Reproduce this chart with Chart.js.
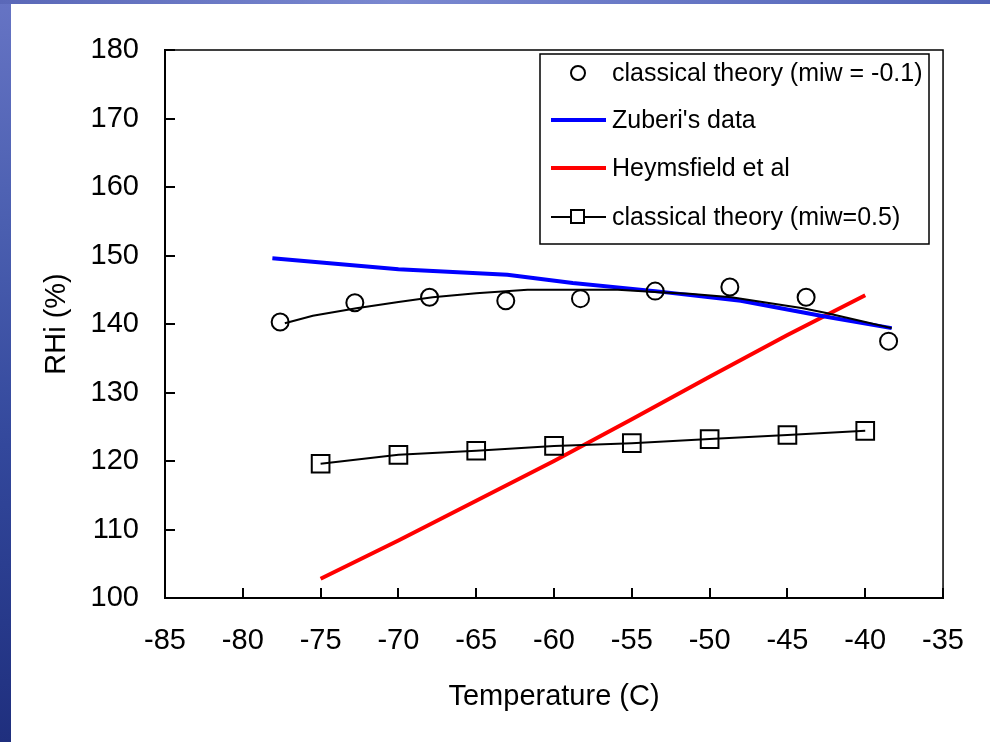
<!DOCTYPE html>
<html>
<head>
<meta charset="utf-8">
<script src="https://cdn.jsdelivr.net/npm/chart.js@4.4.1/dist/chart.umd.min.js"></script>
<style>
  html, body { margin: 0; padding: 0; }
  body {
    width: 990px; height: 742px; overflow: hidden; position: relative;
    background: linear-gradient(180deg, #6674c4 0%, #4b5fb0 30%, #33489c 60%, #1f2f7e 100%);
  }
  #sheet {
    position: absolute; left: 11px; top: 4px; right: 0; bottom: 0;
    background: #fff;
  }
  #topstrip {
    position: absolute; left: 0; top: 0; width: 990px; height: 4px;
    background: linear-gradient(90deg, #5a68b8, #7a88d0 40%, #5264b8 100%);
  }
  #wrap { position: absolute; left: 0; top: 0; width: 990px; height: 742px; }
</style>
</head>
<body>
<div id="topstrip"></div>
<div id="sheet"></div>
<div id="wrap"><canvas id="ctx" width="990" height="742"></canvas></div>
<script>
// Data
const xTicks = [-85, -80, -75, -70, -65, -60, -55, -50, -45, -40, -35];
const yTicks = [100, 110, 120, 130, 140, 150, 160, 170, 180];

// classical theory (miw = -0.1): open circles
const circT = [-77.6, -72.8, -68.0, -63.1, -58.3, -53.5, -48.7, -43.8, -38.5];
const circRH = [140.3, 143.1, 143.9, 143.4, 143.7, 144.8, 145.4, 143.9, 137.5];

// thin black curve through the circles
const fitT = [-77.3, -75.5, -72.7, -70.0, -67.8, -65.0, -61.7, -58.0, -55.9, -53.0, -51.3, -48.6, -46.3, -44.0, -42.5, -40.0, -38.3];
const fitRH = [140.1, 141.2, 142.3, 143.2, 143.9, 144.5, 145.0, 145.0, 145.0, 144.6, 144.4, 143.9, 143.1, 142.3, 141.6, 140.3, 139.4];

// Zuberi's data
const zubT = [-78.1, -70.0, -63.0, -58.8, -53.5, -48.0, -42.6, -38.3];
const zubRH = [149.6, 148.0, 147.2, 146.0, 144.8, 143.4, 141.1, 139.4];

// Heymsfield et al
const heyT = [-75, -70, -65, -60, -55, -50, -45, -40];
const heyRH = [102.8, 108.4, 114.2, 120.0, 126.1, 132.3, 138.4, 144.2];

// classical theory (miw=0.5): squares
const sqT = [-75, -70, -65, -60, -55, -50, -45, -40];
const sqRH = [119.6, 120.9, 121.5, 122.2, 122.6, 123.2, 123.8, 124.4];

const pts = (xs, ys) => xs.map((x, i) => ({ x: x, y: ys[i] }));
const FONT = "'Liberation Sans', Arial, sans-serif";

// inside tick marks + top/right frame
const frame = {
  id: 'frame',
  afterDraw(chart) {
    const c = chart.ctx, a = chart.chartArea;
    const sx = chart.scales.x, sy = chart.scales.y;
    c.save();
    c.strokeStyle = '#000';
    c.lineWidth = 1.5;
    c.beginPath();
    c.moveTo(a.left, a.top); c.lineTo(a.right, a.top); c.lineTo(a.right, a.bottom);
    c.stroke();
    c.lineWidth = 2;
    c.beginPath();
    xTicks.forEach(v => {
      const px = Math.round(sx.getPixelForValue(v));
      c.moveTo(px, a.bottom); c.lineTo(px, a.bottom - 10);
    });
    yTicks.forEach(v => {
      const py = Math.round(sy.getPixelForValue(v));
      c.moveTo(a.left, py); c.lineTo(a.left + 10, py);
    });
    c.stroke();
    c.restore();
  }
};

// legend box inside the plot
const legendBox = {
  id: 'legendBox',
  afterDraw(chart) {
    const c = chart.ctx;
    const box = { l: 540, t: 54, r: 929, b: 244 };
    const rows = [73, 120, 168, 217];
    c.save();
    c.fillStyle = '#fff';
    c.fillRect(box.l, box.t, box.r - box.l, box.b - box.t);
    c.strokeStyle = '#000';
    c.lineWidth = 1.5;
    c.strokeRect(box.l, box.t, box.r - box.l, box.b - box.t);
    const shown = chart.data.datasets.filter(d => d.label);
    shown.forEach((d, i) => {
      const y = rows[i];
      if (d.showLine) {
        c.strokeStyle = d.borderColor;
        c.lineWidth = d.borderWidth;
        c.beginPath(); c.moveTo(551, y); c.lineTo(606, y); c.stroke();
      }
      if (d.pointRadius > 0) {
        c.fillStyle = '#fff';
        c.strokeStyle = d.pointBorderColor;
        c.lineWidth = d.pointBorderWidth;
        if (d.pointStyle === 'rect') {
          c.fillRect(571, y - 7, 13, 13);
          c.strokeRect(571, y - 7, 13, 13);
        } else {
          c.beginPath(); c.arc(578, y, 7, 0, Math.PI * 2); c.fill(); c.stroke();
        }
      }
      c.fillStyle = '#000';
      c.font = '25px ' + FONT;
      c.textBaseline = 'middle';
      c.fillText(d.label, 612, y + 1);
    });
    c.restore();
  }
};

new Chart(document.getElementById('ctx'), {
  type: 'scatter',
  data: {
    datasets: [
      {
        label: 'classical theory (miw = -0.1)',
        data: pts(circT, circRH),
        showLine: false,
        pointStyle: 'circle',
        pointRadius: 8.5,
        pointBorderWidth: 2,
        pointBorderColor: '#000',
        pointBackgroundColor: 'rgba(0,0,0,0)',
        order: 1
      },
      {
        label: "Zuberi's data",
        data: pts(zubT, zubRH),
        showLine: true,
        borderColor: '#0000ff',
        borderWidth: 4,
        pointRadius: 0,
        order: 3
      },
      {
        label: 'Heymsfield et al',
        data: pts(heyT, heyRH),
        showLine: true,
        borderColor: '#ff0000',
        borderWidth: 4,
        pointRadius: 0,
        order: 4
      },
      {
        label: 'classical theory (miw=0.5)',
        data: pts(sqT, sqRH),
        showLine: true,
        borderColor: '#000',
        borderWidth: 2,
        pointStyle: 'rect',
        pointRadius: 12.5,
        pointBorderWidth: 2,
        pointBorderColor: '#000',
        pointBackgroundColor: 'rgba(0,0,0,0)',
        order: 0
      },
      {
        label: '',
        data: pts(fitT, fitRH),
        showLine: true,
        borderColor: '#000',
        borderWidth: 2,
        pointRadius: 0,
        order: 2
      }
    ]
  },
  options: {
    responsive: false,
    animation: false,
    layout: { padding: { left: 0, top: 50, right: 45, bottom: 0 } },
    plugins: { legend: { display: false }, tooltip: { enabled: false } },
    scales: {
      x: {
        type: 'linear',
        min: -85, max: -35,
        afterBuildTicks: s => { s.ticks = xTicks.map(v => ({ value: v })); },
        afterFit: s => { s.height = 144; },
        grid: { display: false, drawTicks: false },
        border: { display: true, color: '#000', width: 2 },
        ticks: { color: '#000', padding: 26, font: { family: FONT, size: 29 } },
        title: {
          display: true, text: 'Temperature (C)', color: '#000',
          font: { family: FONT, size: 29 }, padding: { top: 0, bottom: 28 }
        }
      },
      y: {
        type: 'linear',
        min: 100, max: 180,
        afterBuildTicks: s => { s.ticks = yTicks.map(v => ({ value: v })); },
        afterFit: s => { s.width = 165; },
        grid: { display: false, drawTicks: false },
        border: { display: true, color: '#000', width: 2 },
        ticks: { color: '#000', padding: 26, font: { family: FONT, size: 29 } },
        title: {
          display: true, text: 'RHi (%)', color: '#000',
          font: { family: FONT, size: 29 }, padding: { top: 40, bottom: 0 }
        }
      }
    }
  },
  plugins: [frame, legendBox]
});
</script>
</body>
</html>
